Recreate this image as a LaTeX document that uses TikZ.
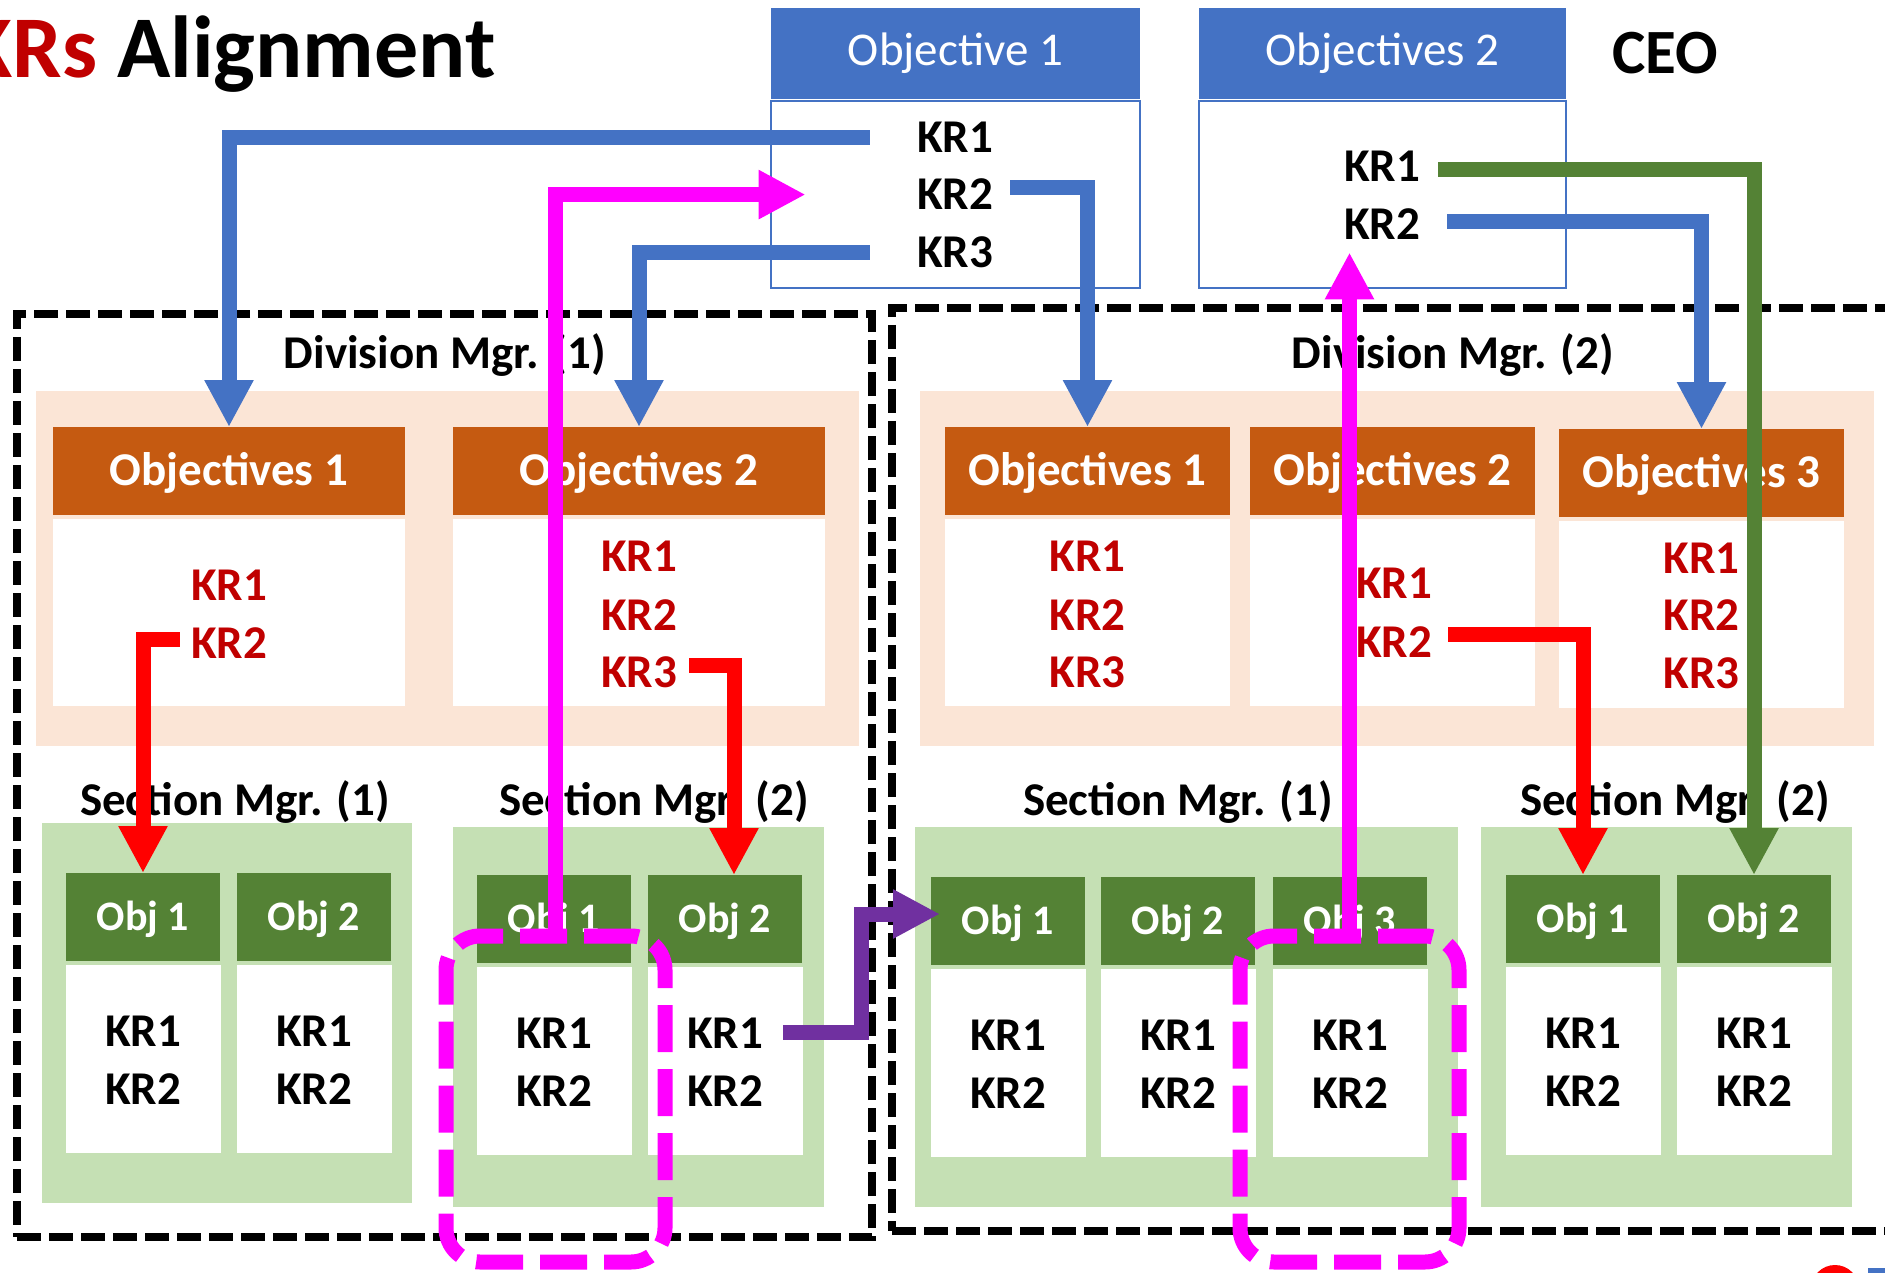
\documentclass[tikz,border=0pt]{standalone}
\usepackage{fontspec}
\setmainfont{Carlito}
\usetikzlibrary{arrows.meta,calc}

\definecolor{okrblue}{HTML}{4472C4}
\definecolor{okrorange}{HTML}{C55A11}
\definecolor{okrpeach}{HTML}{FBE5D6}
\definecolor{okrlgreen}{HTML}{C5E0B4}
\definecolor{okrdgreen}{HTML}{548235}
\definecolor{okrred}{HTML}{C00000}
\definecolor{okrpurple}{HTML}{7030A0}
\definecolor{okrpink}{HTML}{FF00FF}
\definecolor{okrarrow}{HTML}{FF0000}

\tikzset{
  sz/.style 2 args={minimum width=#1*0.5pt,minimum height=#2*0.5pt},
  box/.style={rectangle,inner sep=0pt,outer sep=0pt},
  divbox/.style={box,draw=black,line width=4pt,dash pattern=on 12pt off 4pt},
  tophead/.style={box,fill=okrblue,text=white,font=\fontsize{23.5}{28}\selectfont},
  topbody/.style={box,fill=white,draw=okrblue,line width=1pt},
  divhead/.style={box,fill=okrorange,text=white,text height=14.8pt,text depth=0pt,font=\bfseries\fontsize{23.5}{28}\selectfont},
  whitebody/.style={box,fill=white},
  sechead/.style={box,fill=okrdgreen,text=white,text height=13.2pt,text depth=0pt,font=\bfseries\fontsize{21}{25}\selectfont},
  kr/.style={inner sep=0pt,anchor=base,font=\bfseries\fontsize{23.5}{28}\selectfont},
  redkr/.style={kr,text=okrred},
  mgr/.style={inner sep=0pt,anchor=base,font=\bfseries\fontsize{23.5}{28}\selectfont},
  link/.style={line width=7.5pt,-{Triangle[width=23pt,length=23.5pt]}},
  pick/.style={box,draw=okrpink,line width=7.5pt,dash pattern=on 23.5pt off 8.5pt,rounded corners=17pt}
}

\begin{document}
\begin{tikzpicture}[x=0.5pt,y=-0.5pt]
    \useasboundingbox (0,0) rectangle (1885,1273);

    \node[anchor=base east,inner sep=0pt,font=\bfseries\fontsize{44}{50}\selectfont] (title) at (496,78) {\textcolor{okrred}{KRs} Alignment};
    \node[anchor=base,inner sep=0pt,font=\bfseries\fontsize{31.5}{36}\selectfont] (ceo) at (1665,74) {CEO};

    \node[tophead,sz={369}{91}] (tob1h) at (955.5,53.5) {Objective 1};
    \node[topbody,sz={369}{187}] (tob1b) at (955.5,194.5) {};
    \node[tophead,sz={367}{91}] (tob2h) at (1382.5,53.5) {Objectives 2};
    \node[topbody,sz={367}{187}] (tob2b) at (1382.5,194.5) {};
    \node[kr] (tk11) at (955,153) {KR1};
    \node[kr] (tk12) at (955,210) {KR2};
    \node[kr] (tk13) at (955,268) {KR3};
    \node[kr] (tk21) at (1382,182) {KR1};
    \node[kr] (tk22) at (1382,240) {KR2};

    \node[divbox,sz={855}{923}] (div1) at (444.5,775.5) {};
    \node[divbox,sz={1018}{923}] (div2) at (1401,769.5) {};
    \node[mgr] (div1lbl) at (445,368) {Division Mgr. (1)};
    \node[mgr] (div2lbl) at (1453,368) {Division Mgr. (2)};

    \node[box,fill=okrpeach,sz={823}{355}] (pe1) at (447.5,568.5) {};
    \node[box,fill=okrpeach,sz={954}{355}] (pe2) at (1397,568.5) {};

    \node[divhead,sz={352}{88}] (d1o1h) at (229,471) {Objectives 1};
    \node[whitebody,sz={352}{187}] (d1o1b) at (229,612.5) {};
    \node[divhead,sz={372}{88}] (d1o2h) at (639,471) {Objectives 2};
    \node[whitebody,sz={372}{187}] (d1o2b) at (639,612.5) {};
    \node[divhead,sz={285}{88}] (d2o1h) at (1087.5,471) {Objectives 1};
    \node[whitebody,sz={285}{187}] (d2o1b) at (1087.5,612.5) {};
    \node[divhead,sz={285}{88}] (d2o2h) at (1392.5,471) {Objectives 2};
    \node[whitebody,sz={285}{187}] (d2o2b) at (1392.5,612.5) {};
    \node[divhead,sz={285}{88}] (d2o3h) at (1701.5,473) {Objectives 3};
    \node[whitebody,sz={285}{187}] (d2o3b) at (1701.5,614.5) {};

    \node[redkr] (d1a1) at (229,600) {KR1};
    \node[redkr] (d1a2) at (229,658) {KR2};
    \node[redkr] (d1b1) at (639,571) {KR1};
    \node[redkr] (d1b2) at (639,630) {KR2};
    \node[redkr] (d1b3) at (639,687) {KR3};
    \node[redkr] (d2a1) at (1087.5,571) {KR1};
    \node[redkr] (d2a2) at (1087.5,630) {KR2};
    \node[redkr] (d2a3) at (1087.5,687) {KR3};
    \node[redkr] (d2b1) at (1394,598) {KR1};
    \node[redkr] (d2b2) at (1394,657) {KR2};
    \node[redkr] (d2c1) at (1701.5,573) {KR1};
    \node[redkr] (d2c2) at (1701.5,630) {KR2};
    \node[redkr] (d2c3) at (1701.5,688) {KR3};

    \node[box,fill=okrlgreen,sz={370}{380}] (g11) at (227,1013) {};
    \node[box,fill=okrlgreen,sz={371}{380}] (g12) at (638.5,1017) {};
    \node[box,fill=okrlgreen,sz={543}{380}] (g21) at (1186.5,1017) {};
    \node[box,fill=okrlgreen,sz={371}{380}] (g22) at (1666.5,1017) {};
    \node[mgr] (s1lbl) at (235,815) {Section Mgr. (1)};
    \node[mgr] (s2lbl) at (654,815) {Section Mgr. (2)};
    \node[mgr] (s3lbl) at (1178,815) {Section Mgr. (1)};
    \node[mgr] (s4lbl) at (1675,815) {Section Mgr. (2)};

    \foreach \n/\cx/\hy/\ttl in {s11o1/143/917/Obj 1, s11o2/314/917/Obj 2,
        s12o1/554/919/Obj 1, s12o2/725/919/Obj 2,
        s21o1/1008/921/Obj 1, s21o2/1178/921/Obj 2, s21o3/1350/921/Obj 3,
        s22o1/1583/919/Obj 1, s22o2/1754/919/Obj 2}{
      \node[sechead,sz={154}{88}] (\n-h) at (\cx,\hy) {\ttl};
      \node[whitebody,sz={155}{188}] (\n-b) at (\cx,\hy+142) {};
      \node[kr] (\n-k1) at (\cx,\hy+129) {KR1};
      \node[kr] (\n-k2) at (\cx,\hy+187) {KR2};
    }

    \node[pick,sz={219}{326}] (ma) at (555.5,1099) {};
    \node[pick,sz={219}{326}] (mb) at (1349.5,1099) {};

    \fill[okrarrow] (1835,1289) circle (24);
    \fill[okrblue] (1868,1268) rectangle (1890,1280);

    \draw[link,okrblue] ($(tk11.west)+(-47,0)$) -| (d1o1h.north);
    \draw[link,okrblue] ($(tk13.west)+(-47,0)$) -| (d1o2h.north);
    \draw[link,okrblue] ($(tk12.east)+(17,-7)$) -| (d2o1h.north);
    \draw[link,okrblue] ($(tk22.east)+(27,-3)$) -| (d2o3h.north);
    \draw[link,okrdgreen] ($(tk21.east)+(18,3)$) -| (s22o2-h.north);
    \draw[link,okrarrow] ($(d1a2.west)+(-11,-3)$) -| (s11o1-h.north);
    \draw[link,okrarrow] ($(d1b3.east)+(12,-6)$) -| ($(s12o2-h.north)+(9,0)$);
    \draw[link,okrarrow] ($(d2b2.east)+(16,-7)$) -| (s22o1-h.north);
    \draw[link,okrpurple] ($(s12o2-k1.east)+(20,0)$) -| ($(s21o1-h.west)+(-70,-7)$) -- ($(s21o1-h.west)+(9,-7)$);

    \coordinate (m2end) at ($(tk22.south)+(0,12)$);
    \draw[link,okrpink] (ma.north) |- ($(tk12.west)+(-111,0)$);
    \draw[link,okrpink] (mb.north) -- (mb.north |- m2end);
\end{tikzpicture}
\end{document}
